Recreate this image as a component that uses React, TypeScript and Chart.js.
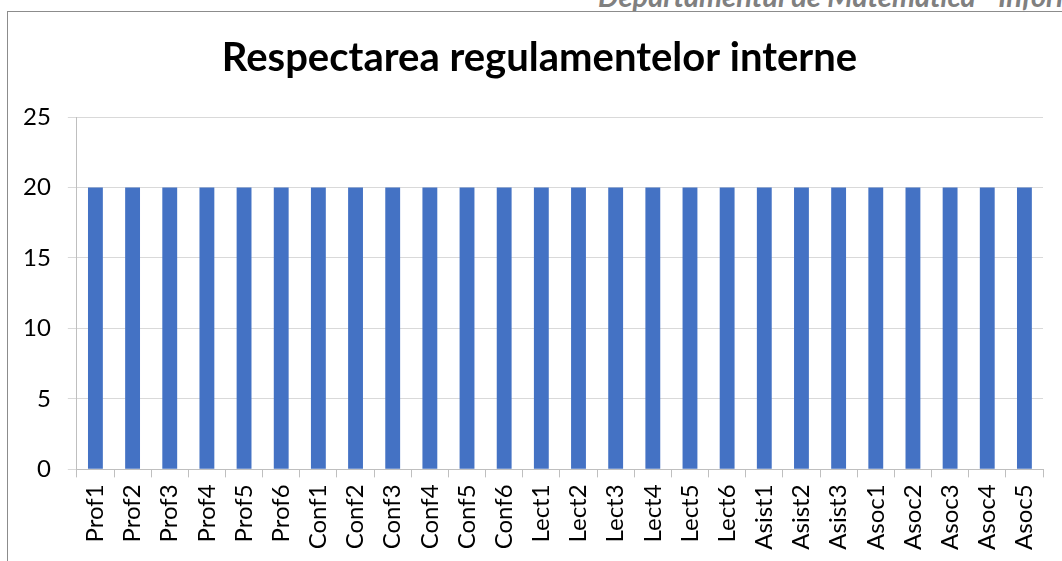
import React, { useEffect, useRef } from "react";
import { Chart, registerables } from "chart.js";

Chart.register(...registerables);

const categories: string[] = [
  "Prof1", "Prof2", "Prof3", "Prof4", "Prof5", "Prof6",
  "Conf1", "Conf2", "Conf3", "Conf4", "Conf5", "Conf6",
  "Lect1", "Lect2", "Lect3", "Lect4", "Lect5", "Lect6",
  "Asist1", "Asist2", "Asist3",
  "Asoc1", "Asoc2", "Asoc3", "Asoc4", "Asoc5",
];
const values: number[] = [
  20, 20, 20, 20, 20, 20,
  20, 20, 20, 20, 20, 20,
  20, 20, 20, 20, 20, 20,
  20, 20, 20,
  20, 20, 20, 20, 20,
];
const titleText = "Respectarea regulamentelor interne";
const headerText = "Departamentul de Matematică - Informatică";
const yMin = 0;
const yMax = 25;
const yStep = 5;

const FONT = "Lato, 'Open Sans', sans-serif";

const titleShift = {
  id: "titleShift",
  afterLayout(chart: any) {
    const t = chart.titleBlock;
    if (t) {
      t.left += 30;
    }
  },
};

export default function App() {
  const ref = useRef<HTMLCanvasElement | null>(null);
  useEffect(() => {
    if (!ref.current) return;
    const chart = new Chart(ref.current, {
      type: "bar",
      data: {
        labels: categories,
        datasets: [
          {
            data: values,
            backgroundColor: "#4472C4",
            categoryPercentage: 1,
            barPercentage: 0.4,
          },
        ],
      },
      plugins: [titleShift],
      options: {
        animation: false,
        responsive: false,
        maintainAspectRatio: false,
        layout: { padding: { left: -2, right: 19, top: 0, bottom: 4 } },
        plugins: {
          legend: { display: false },
          tooltip: { enabled: false },
          title: {
            display: true,
            text: titleText,
            color: "#000000",
            font: { family: FONT, size: 40, weight: "bold" },
            padding: { top: 22, bottom: 35 },
          },
        },
        scales: {
          x: {
            grid: {
              offset: true,
              drawOnChartArea: false,
              drawTicks: true,
              tickLength: 8,
              color: "#bfbfbf",
            },
            border: { color: "#bfbfbf" },
            ticks: {
              color: "#000000",
              font: { family: FONT, size: 24 },
              maxRotation: 90,
              minRotation: 90,
              autoSkip: false,
              padding: 7,
            },
          },
          y: {
            min: yMin,
            max: yMax,
            grid: { color: "#d9d9d9", tickLength: 9 },
            border: { color: "#bfbfbf" },
            ticks: {
              stepSize: yStep,
              color: "#000000",
              font: { family: FONT, size: 24 },
              padding: 17,
            },
          },
        },
      },
    });
    return () => chart.destroy();
  }, []);

  return (
    <div
      style={{
        position: "absolute",
        left: 0,
        top: 0,
        width: 1062,
        height: 561,
        overflow: "hidden",
        background: "#ffffff",
      }}
    >
      <div
        style={{
          position: "absolute",
          left: 598,
          top: -19,
          whiteSpace: "nowrap",
          fontFamily: FONT,
          fontStyle: "italic",
          fontWeight: "bold",
          fontSize: 29,
          lineHeight: "29px",
          color: "#808080",
        }}
      >
        {headerText}
      </div>
      <div
        style={{
          position: "absolute",
          left: 7,
          top: 11,
          width: 1062,
          height: 560,
          borderLeft: "1px solid #8c8c8c",
          borderTop: "1px solid #8c8c8c",
        }}
      />
      <canvas
        ref={ref}
        width={1054}
        height={549}
        style={{ position: "absolute", left: 8, top: 12, width: 1054, height: 549 }}
      />
    </div>
  );
}
